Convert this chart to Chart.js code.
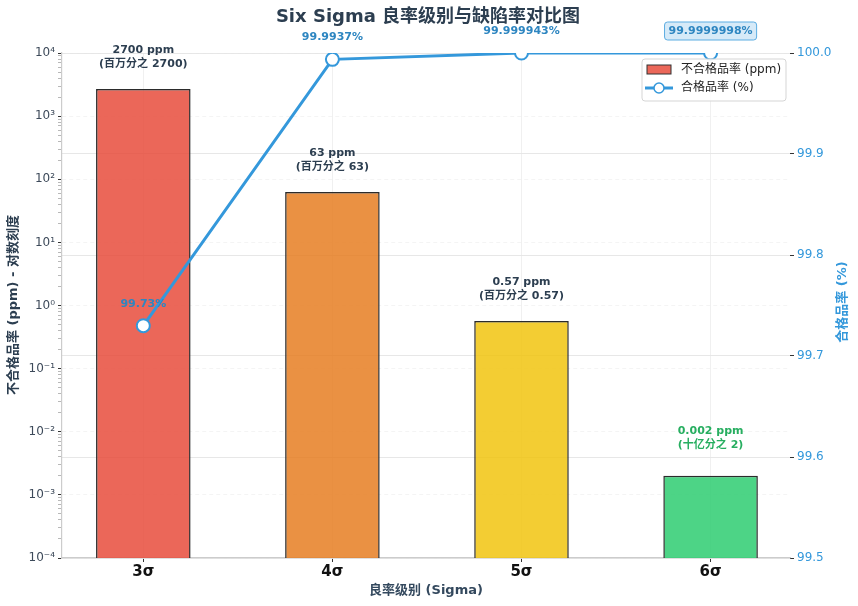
<!DOCTYPE html>
<html>
<head>
<meta charset="utf-8">
<title>Six Sigma 良率级别与缺陷率对比图</title>
<script src="https://cdn.jsdelivr.net/npm/chart.js@4/dist/chart.umd.min.js"></script>
<style>
  html, body { margin: 0; padding: 0; background: #ffffff; }
  #wrap { width: 858px; height: 606px; position: relative; }
</style>
</head>
<body>
<div id="wrap"><canvas id="sigmaChart"></canvas></div>
<script>
// ─── Data ──────────────────────────────────────────────
const categories = ['3σ', '4σ', '5σ', '6σ'];
const defectPpm = [2700, 63, 0.57, 0.002];
const yieldPct = [99.73, 99.9937, 99.999943, 99.9999998];
const ppmNotes = ['(百万分之 2700)', '(百万分之 63)', '(百万分之 0.57)', '(十亿分之 2)'];
const yieldLabels = ['99.73%', '99.9937%', '99.999943%', '99.9999998%'];
const barColors = ['rgba(231,76,60,0.85)', 'rgba(230,126,34,0.85)', 'rgba(241,196,15,0.85)', 'rgba(46,204,113,0.85)'];
const logExponents = [-4, -3, -2, -1, 0, 1, 2, 3, 4];
const yieldTicks = [99.5, 99.6, 99.7, 99.8, 99.9, 100.0];

const FONT = "'DejaVu Sans', 'Noto Sans CJK SC', sans-serif";
Chart.defaults.font.family = FONT;

const SUP = { '-': '⁻', '0': '⁰', '1': '¹', '2': '²', '3': '³', '4': '⁴', '5': '⁵', '6': '⁶', '7': '⁷', '8': '⁸', '9': '⁹' };
const sup = n => String(n).split('').map(c => SUP[c]).join('');
const isDecade = v => Math.abs(Math.log10(v) - Math.round(Math.log10(v))) < 1e-9;

// ─── Cut the yield line off at the top of the plot ─────
// (paints the strip above the plot area white once the datasets are drawn)
const lineClipPlugin = {
    id: 'lineClip',
    afterDatasetsDraw(chart) {
        const a = chart.chartArea;
        const c = chart.ctx;
        c.save();
        c.fillStyle = '#ffffff';
        c.fillRect(a.left + 1, 0, a.right - a.left - 1, a.top);
        c.restore();
    }
};

// ─── Labels, titles, legend ────────────────────────────
const decorPlugin = {
    id: 'decor',
    afterDraw(chart) {
        const { ctx } = chart;
        const x = chart.scales.x;
        const y = chart.scales.y;
        const y2 = chart.scales.y2;
        ctx.save();
        ctx.textAlign = 'center';
        ctx.textBaseline = 'middle';

        // Bar value labels (the last one sits a bit higher, in green)
        ctx.font = `bold 11px ${FONT}`;
        defectPpm.forEach((v, i) => {
            const px = x.getPixelForValue(i);
            const last = i === defectPpm.length - 1;
            const top = y.getPixelForValue(v) - (last ? 6 : 0);
            ctx.fillStyle = last ? '#27ae60' : '#2c3e50';
            ctx.fillText(`${v} ppm`, px, top - 39);
            ctx.fillText(ppmNotes[i], px, top - 25);
        });

        // Yield point labels
        yieldPct.forEach((v, i) => {
            const px = x.getPixelForValue(i);
            const py = y2.getPixelForValue(Math.min(v, 100));
            const ly = py - 22;
            ctx.font = `bold 11px ${FONT}`;
            if (i === yieldPct.length - 1) {
                const w = ctx.measureText(yieldLabels[i]).width + 8;
                ctx.beginPath();
                ctx.roundRect(px - w / 2, ly - 9, w, 18, 3);
                ctx.fillStyle = '#d6eaf8';
                ctx.fill();
                ctx.strokeStyle = '#5dade2';
                ctx.lineWidth = 1;
                ctx.stroke();
            }
            ctx.fillStyle = '#2e86c1';
            ctx.fillText(yieldLabels[i], px, ly);
        });

        // Main title
        ctx.font = `bold 18px ${FONT}`;
        ctx.fillStyle = '#2c3e50';
        ctx.fillText('Six Sigma 良率级别与缺陷率对比图', 428, 17);

        // Axis titles
        ctx.font = `bold 13px ${FONT}`;
        ctx.fillStyle = '#34495e';
        ctx.fillText('良率级别 (Sigma)', 426, 591);

        ctx.save();
        ctx.translate(14, 305);
        ctx.rotate(-Math.PI / 2);
        ctx.fillStyle = '#2c3e50';
        ctx.fillText('不合格品率 (ppm) - 对数刻度', 0, 0);
        ctx.restore();

        ctx.save();
        ctx.translate(843, 302);
        ctx.rotate(-Math.PI / 2);
        ctx.fillStyle = '#3498db';
        ctx.fillText('合格品率 (%)', 0, 0);
        ctx.restore();

        // Legend
        ctx.beginPath();
        ctx.roundRect(642, 59, 144, 42, 3);
        ctx.fillStyle = 'rgba(255,255,255,0.85)';
        ctx.fill();
        ctx.strokeStyle = '#d5d5d5';
        ctx.lineWidth = 1;
        ctx.stroke();

        ctx.fillStyle = barColors[0];
        ctx.fillRect(647, 65, 24, 9);
        ctx.strokeStyle = '#333333';
        ctx.strokeRect(647, 65, 24, 9);

        ctx.beginPath();
        ctx.moveTo(645, 88);
        ctx.lineTo(673, 88);
        ctx.strokeStyle = '#3498db';
        ctx.lineWidth = 3;
        ctx.stroke();
        ctx.beginPath();
        ctx.arc(659, 88, 5, 0, Math.PI * 2);
        ctx.fillStyle = '#ffffff';
        ctx.fill();
        ctx.lineWidth = 1.5;
        ctx.stroke();

        ctx.textAlign = 'left';
        ctx.font = `12px ${FONT}`;
        ctx.fillStyle = '#222222';
        ctx.fillText('不合格品率 (ppm)', 681, 70);
        ctx.fillText('合格品率 (%)', 681, 88);
        ctx.restore();
    }
};

// ─── Chart ─────────────────────────────────────────────
const ctx = document.getElementById('sigmaChart').getContext('2d');
new Chart(ctx, {
    type: 'bar',
    data: {
        datasets: [
            {
                type: 'line',
                label: '合格品率 (%)',
                data: yieldPct.map((v, i) => ({ x: i, y: v })),
                yAxisID: 'y2',
                borderColor: '#3498db',
                borderWidth: 3,
                pointRadius: 6.5,
                pointBackgroundColor: '#ffffff',
                pointBorderColor: '#3498db',
                pointBorderWidth: 2,
                tension: 0,
                clip: false,
                order: 1
            },
            {
                type: 'bar',
                label: '不合格品率 (ppm)',
                data: defectPpm.map((v, i) => ({ x: i, y: v })),
                yAxisID: 'y',
                backgroundColor: barColors,
                borderColor: '#2b2b2b',
                borderWidth: 1.5,
                barPercentage: 0.5,
                categoryPercentage: 1,
                order: 2
            }
        ]
    },
    options: {
        responsive: true,
        maintainAspectRatio: false,
        animation: false,
        layout: { padding: { top: 53, left: 0, right: 0, bottom: 0 } },
        plugins: {
            legend: { display: false },
            title: { display: false },
            tooltip: { enabled: false }
        },
        scales: {
            x: {
                type: 'linear',
                min: -0.43,
                max: 3.42,
                offset: false,
                afterBuildTicks: axis => { axis.ticks = categories.map((_, i) => ({ value: i })); },
                afterFit: axis => { axis.height = 48; },
                ticks: {
                    callback: v => categories[v],
                    color: '#111111',
                    font: { size: 15, weight: 'bold' },
                    padding: 1,
                    autoSkip: false,
                    maxRotation: 0
                },
                grid: { offset: false, color: 'rgba(0,0,0,0.06)', tickColor: '#333333', tickLength: 4 },
                border: { color: '#cccccc', width: 1.2 }
            },
            y: {
                type: 'logarithmic',
                position: 'left',
                min: 1e-4,
                max: 1e4,
                afterBuildTicks: axis => {
                    const t = [];
                    logExponents.forEach(e => {
                        const base = Math.pow(10, e);
                        t.push({ value: base, major: true });
                        if (e < 4) for (let m = 2; m <= 9; m++) t.push({ value: m * base });
                    });
                    axis.ticks = t;
                },
                afterFit: axis => { axis.width = 62; },
                ticks: {
                    autoSkip: false,
                    callback: v => isDecade(v) ? '10' + sup(Math.round(Math.log10(v))) : '',
                    color: '#3d4a5a',
                    font: { size: 12 },
                    padding: 3
                },
                grid: {
                    color: c => (c.tick && isDecade(c.tick.value)) ? 'rgba(0,0,0,0.045)' : 'transparent',
                    tickColor: c => (c.tick && isDecade(c.tick.value)) ? '#333333' : '#888888',
                    tickWidth: c => (c.tick && isDecade(c.tick.value)) ? 1 : 0.6,
                    tickLength: 4
                },
                border: { color: '#cccccc', width: 1.2, dash: [4, 3] }
            },
            y2: {
                type: 'linear',
                position: 'right',
                min: 99.5,
                max: 100.0,
                z: 1,
                afterBuildTicks: axis => { axis.ticks = yieldTicks.map(v => ({ value: v })); },
                afterFit: axis => { axis.width = 68; },
                ticks: {
                    callback: v => v.toFixed(1),
                    color: '#3498db',
                    font: { size: 12 },
                    padding: 3
                },
                grid: { color: 'rgba(228,228,228,0.9)', tickColor: '#333333', tickLength: 4 },
                border: { display: false }
            }
        }
    },
    plugins: [lineClipPlugin, decorPlugin]
});
</script>
</body>
</html>
